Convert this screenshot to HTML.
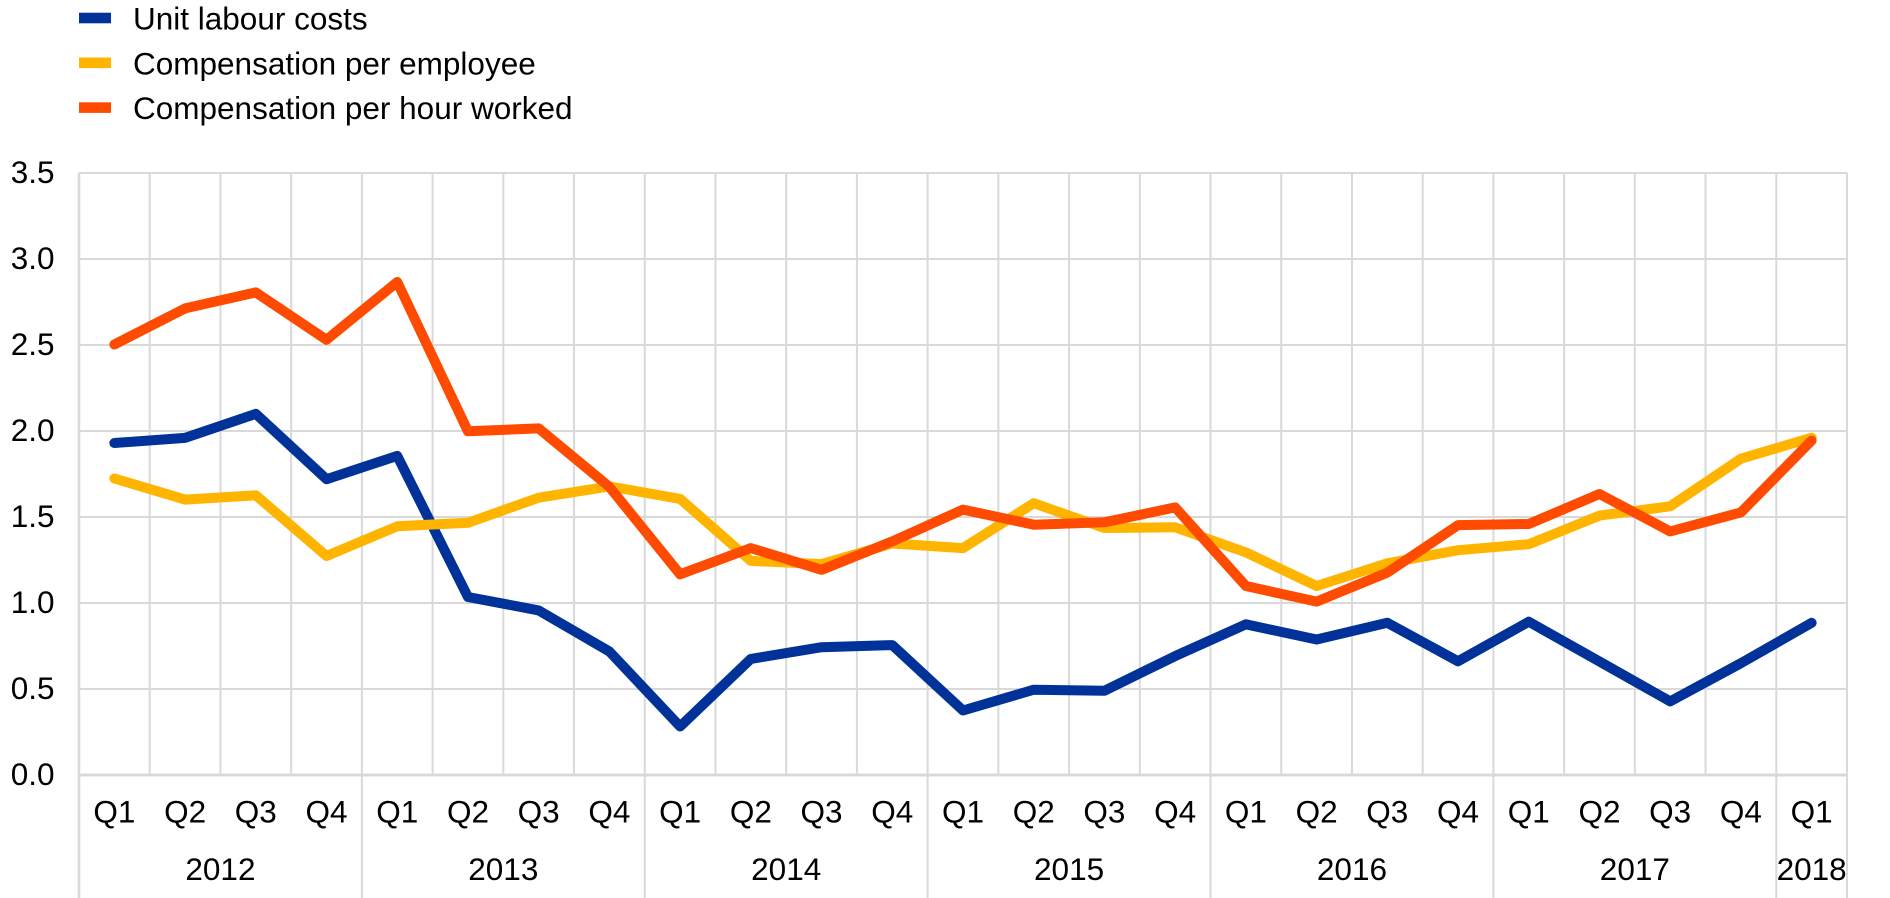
<!DOCTYPE html>
<html>
<head>
<meta charset="utf-8">
<style>
html,body{margin:0;padding:0;background:#fff;}
svg{display:block;}
text{font-family:"Liberation Sans",Arial,sans-serif;fill:#000;}
</style>
</head>
<body>
<svg width="1890" height="898" viewBox="0 0 1890 898" xmlns="http://www.w3.org/2000/svg">
<rect width="1890" height="898" fill="#fff"/>
<!-- legend -->
<rect x="79" y="12.7" width="32" height="10.6" fill="#003299"/>
<rect x="79" y="57.5" width="32" height="10.6" fill="#FFB400"/>
<rect x="79" y="102.3" width="32" height="10.6" fill="#FF4B00"/>
<text x="133" y="29.5" font-size="31.5">Unit labour costs</text>
<text x="133" y="74.3" font-size="31.5">Compensation per employee</text>
<text x="133" y="119.1" font-size="31.5">Compensation per hour worked</text>

<!-- grid -->
<g stroke="#d9d9d9" stroke-width="2" fill="none">
<line x1="79" y1="173" x2="1847" y2="173"/>
<line x1="79" y1="259" x2="1847" y2="259"/>
<line x1="79" y1="345" x2="1847" y2="345"/>
<line x1="79" y1="431" x2="1847" y2="431"/>
<line x1="79" y1="517" x2="1847" y2="517"/>
<line x1="79" y1="603" x2="1847" y2="603"/>
<line x1="79" y1="689" x2="1847" y2="689"/>
<line x1="149.72" y1="173" x2="149.72" y2="775"/>
<line x1="220.44" y1="173" x2="220.44" y2="775"/>
<line x1="291.16" y1="173" x2="291.16" y2="775"/>
<line x1="361.88" y1="173" x2="361.88" y2="898"/>
<line x1="432.60" y1="173" x2="432.60" y2="775"/>
<line x1="503.32" y1="173" x2="503.32" y2="775"/>
<line x1="574.04" y1="173" x2="574.04" y2="775"/>
<line x1="644.76" y1="173" x2="644.76" y2="898"/>
<line x1="715.48" y1="173" x2="715.48" y2="775"/>
<line x1="786.20" y1="173" x2="786.20" y2="775"/>
<line x1="856.92" y1="173" x2="856.92" y2="775"/>
<line x1="927.64" y1="173" x2="927.64" y2="898"/>
<line x1="998.36" y1="173" x2="998.36" y2="775"/>
<line x1="1069.08" y1="173" x2="1069.08" y2="775"/>
<line x1="1139.80" y1="173" x2="1139.80" y2="775"/>
<line x1="1210.52" y1="173" x2="1210.52" y2="898"/>
<line x1="1281.24" y1="173" x2="1281.24" y2="775"/>
<line x1="1351.96" y1="173" x2="1351.96" y2="775"/>
<line x1="1422.68" y1="173" x2="1422.68" y2="775"/>
<line x1="1493.40" y1="173" x2="1493.40" y2="898"/>
<line x1="1564.12" y1="173" x2="1564.12" y2="775"/>
<line x1="1634.84" y1="173" x2="1634.84" y2="775"/>
<line x1="1705.56" y1="173" x2="1705.56" y2="775"/>
<line x1="1776.28" y1="173" x2="1776.28" y2="898"/>
<line x1="1847" y1="173" x2="1847" y2="898"/>
<line x1="79" y1="173" x2="79" y2="898" stroke-width="2.6"/>
<line x1="79" y1="775" x2="1847" y2="775" stroke-width="3"/>
</g>

<!-- y labels -->
<g font-size="31.5" text-anchor="end">
<text x="54.5" y="183">3.5</text>
<text x="54.5" y="269">3.0</text>
<text x="54.5" y="355">2.5</text>
<text x="54.5" y="441">2.0</text>
<text x="54.5" y="527">1.5</text>
<text x="54.5" y="613">1.0</text>
<text x="54.5" y="699">0.5</text>
<text x="54.5" y="785">0.0</text>
</g>

<!-- x labels -->
<g font-size="31.5" text-anchor="middle">
<text x="114.36" y="822.5">Q1</text>
<text x="185.08" y="822.5">Q2</text>
<text x="255.80" y="822.5">Q3</text>
<text x="326.52" y="822.5">Q4</text>
<text x="397.24" y="822.5">Q1</text>
<text x="467.96" y="822.5">Q2</text>
<text x="538.68" y="822.5">Q3</text>
<text x="609.40" y="822.5">Q4</text>
<text x="680.12" y="822.5">Q1</text>
<text x="750.84" y="822.5">Q2</text>
<text x="821.56" y="822.5">Q3</text>
<text x="892.28" y="822.5">Q4</text>
<text x="963.00" y="822.5">Q1</text>
<text x="1033.72" y="822.5">Q2</text>
<text x="1104.44" y="822.5">Q3</text>
<text x="1175.16" y="822.5">Q4</text>
<text x="1245.88" y="822.5">Q1</text>
<text x="1316.60" y="822.5">Q2</text>
<text x="1387.32" y="822.5">Q3</text>
<text x="1458.04" y="822.5">Q4</text>
<text x="1528.76" y="822.5">Q1</text>
<text x="1599.48" y="822.5">Q2</text>
<text x="1670.20" y="822.5">Q3</text>
<text x="1740.92" y="822.5">Q4</text>
<text x="1811.64" y="822.5">Q1</text>
<text x="220.44" y="880">2012</text>
<text x="503.32" y="880">2013</text>
<text x="786.20" y="880">2014</text>
<text x="1069.08" y="880">2015</text>
<text x="1351.96" y="880">2016</text>
<text x="1634.84" y="880">2017</text>
<text x="1811.64" y="880">2018</text>
</g>

<!-- series -->
<g fill="none" stroke-width="10" stroke-linecap="round" stroke-linejoin="round">
<polyline stroke="#003299" points="114.36,443.0 185.08,437.9 255.80,413.8 326.52,479.2 397.24,455.9 467.96,597.0 538.68,610.4 609.40,651.5 680.12,726.5 750.84,658.9 821.56,647.2 892.28,645.1 963.00,710.5 1033.72,689.7 1104.44,690.7 1175.16,656.1 1245.88,624.3 1316.60,639.5 1387.32,622.8 1458.04,661.3 1528.76,621.7 1599.48,661.5 1670.20,701.4 1740.92,663.2 1811.64,622.8"/>
<polyline stroke="#FFB400" points="114.36,478.5 185.08,499.6 255.80,495.3 326.52,556.0 397.24,526.3 467.96,522.8 538.68,497.7 609.40,486.4 680.12,498.9 750.84,560.9 821.56,564.1 892.28,543.5 963.00,548.1 1033.72,503.2 1104.44,528.0 1175.16,527.3 1245.88,552.4 1316.60,586.0 1387.32,563.3 1458.04,550.2 1528.76,544.2 1599.48,515.6 1670.20,506.3 1740.92,458.7 1811.64,437.7"/>
<polyline stroke="#FF4B00" points="114.36,344.5 185.08,308.4 255.80,292.4 326.52,339.8 397.24,282.0 467.96,431.3 538.68,428.4 609.40,486.9 680.12,574.3 750.84,548.1 821.56,569.8 892.28,541.4 963.00,509.6 1033.72,524.7 1104.44,522.3 1175.16,507.4 1245.88,586.0 1316.60,601.6 1387.32,572.6 1458.04,525.1 1528.76,524.0 1599.48,494.0 1670.20,531.4 1740.92,512.4 1811.64,440.5"/>
</g>
</svg>
</body>
</html>
